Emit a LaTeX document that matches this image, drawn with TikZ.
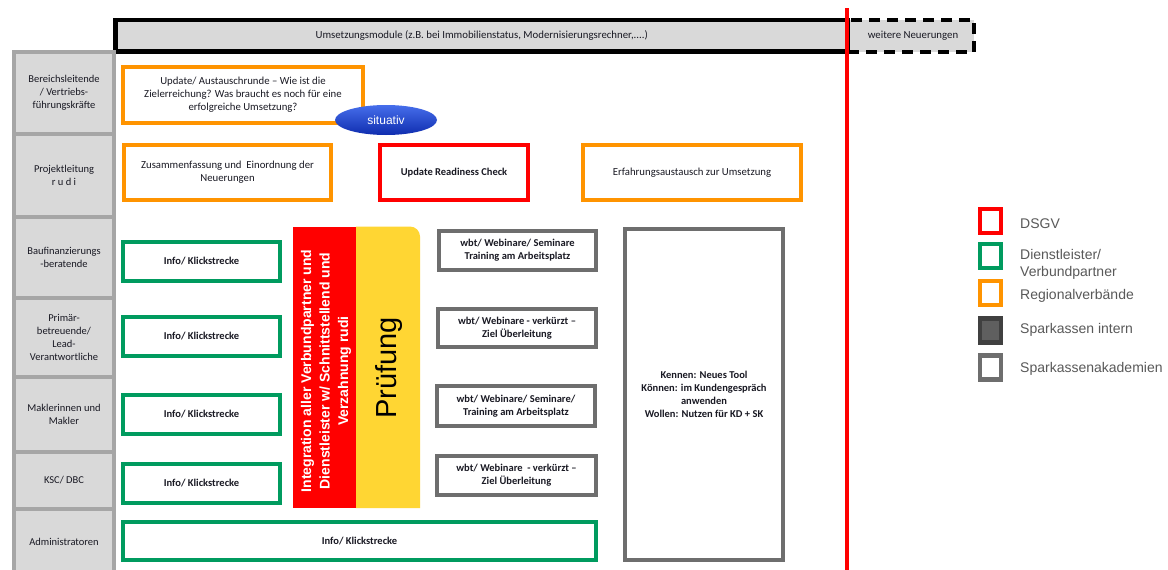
\documentclass[tikz,border=0pt]{standalone}
\usepackage{fontspec}
\setmainfont{Carlito}
\newfontfamily\arialf{Liberation Sans}
\usetikzlibrary{shapes.geometric}
\definecolor{ora}{RGB}{255,148,0}
\definecolor{grn}{RGB}{0,155,95}
\definecolor{gry}{RGB}{110,110,110}
\definecolor{lgry}{RGB}{166,166,166}
\definecolor{lfill}{RGB}{217,217,217}
\definecolor{txt}{RGB}{25,25,35}
\definecolor{yel}{RGB}{255,214,51}
\definecolor{legtxt}{RGB}{89,89,89}
\definecolor{dkfill}{RGB}{95,95,95}
\definecolor{dkline}{RGB}{64,64,64}
\newcommand\bx[7]{%
  \pgfmathsetmacro\myW{#5-#3}%
  \pgfmathsetmacro\myH{#6-#4}%
  \pgfmathsetmacro\myX{(#3+#5)/2}%
  \pgfmathsetmacro\myY{(#4+#6)/2}%
  \node[#2, minimum width=\myW pt, minimum height=\myH pt] (#1) at (\myX,\myY) {#7};}
\tikzset{
  box/.style={draw, line width=4pt, fill=white, inner sep=0pt, align=center,
    font=\fontsize{10.75}{13}\selectfont, text=txt},
  obox/.style={box, draw=ora},
  gbox/.style={box, draw=grn, font=\bfseries\fontsize{10.5}{13}\selectfont},
  rbox/.style={box, draw=red, font=\bfseries\fontsize{10.5}{13}\selectfont},
  kbox/.style={box, draw=gry, font=\bfseries\fontsize{10.5}{13}\selectfont},
  lbox/.style={box, draw=lgry, fill=lfill, font=\fontsize{10.5}{13}\selectfont},
  topbar/.style={box, draw=black, line width=4.5pt, fill=lfill, font=\fontsize{10.8}{12}\selectfont},
  dashbox/.style={box, draw=black, line width=4pt, fill=lfill, dash pattern=on 11pt off 7pt,
    font=\fontsize{10.8}{12}\selectfont},
  legsq/.style={draw, line width=4.5pt, fill=white, minimum width=21pt, minimum height=24pt, inner sep=0pt},
  legtext/.style={anchor=west, inner sep=0pt, align=left, text=legtxt,
    font=\arialf\fontsize{14}{17}\selectfont},
}
\begin{document}
\begin{tikzpicture}[x=1pt,y=-1pt]
\useasboundingbox[fill=white] (0,0) rectangle (1168,570);

% top row
\bx{more}{dashbox}{848}{20}{974}{51.5}{\hspace*{4pt}weitere Neuerungen}
\bx{modules}{topbar}{115.5}{20}{848}{51.5}{Umsetzungsmodule (z.B. bei Immobilienstatus, Modernisierungsrechner,....)}

% left column
\bx{r1}{lbox}{14}{52}{114}{134}{Bereichsleitende\\/ Vertriebs-\\führungskräfte}
\bx{r2}{lbox}{14}{134}{114}{217}{Projektleitung\\r u d i}
\bx{r3}{lbox}{14}{217}{114}{298}{Baufinanzierungs\\-beratende}
\bx{r4}{lbox}{14}{298}{114}{377}{Primär-\\betreuende/\\Lead-\\Verantwortliche}
\bx{r5}{lbox}{14}{377}{114}{452}{Maklerinnen und\\Makler}
\bx{r6}{lbox}{14}{452}{114}{509}{KSC/ DBC}
\bx{r7}{lbox}{14}{509}{114}{578}{\raisebox{4pt}{Administratoren}}

% row 1
\bx{upd}{obox}{123}{67}{363}{123}{Update/ Austauschrunde -- Wie ist die\\Zielerreichung? Was braucht es noch für eine\\erfolgreiche Umsetzung?}
\node[ellipse, minimum width=102pt, minimum height=30pt, inner sep=0pt,
  top color={rgb,255:red,70;green,110;blue,235}, bottom color={rgb,255:red,15;green,45;blue,175},
  text=white, font=\arialf\fontsize{12}{14}\selectfont] (sit) at (386,120) {situativ};

% row 2
\bx{zus}{obox}{124}{145}{331}{200}{Zusammenfassung und~ Einordnung der\\Neuerungen}
\bx{urc}{rbox}{380}{145}{528}{200}{Update Readiness Check}
\bx{erf}{obox}{583}{145}{801}{200}{Erfahrungsaustausch zur Umsetzung}

% green boxes
\bx{i1}{gbox}{123}{242}{280}{281}{Info/ Klickstrecke}
\bx{i2}{gbox}{123}{317}{280}{356}{Info/ Klickstrecke}
\bx{i3}{gbox}{123}{395}{280}{434}{Info/ Klickstrecke}
\bx{i4}{gbox}{123}{464}{280}{503}{Info/ Klickstrecke}
\bx{i5}{gbox}{123}{522}{596}{560}{Info/ Klickstrecke}

% bars
\fill[yel] (356,508) -- (356,226.5) -- (410,226.5) to[out=0,in=90] (420,236.5) -- (420,508) -- cycle;
\fill[red] (293,226.5) rectangle (356,508);
\node[rotate=90, align=center, text=white, font=\arialf\bfseries\fontsize{14}{18.5}\selectfont] (integ) at (326,371)
  {Integration aller Verbundpartner und\\Dienstleister w/ Schnittstellend und\\Verzahnung rudi};
\node[rotate=90, text=black, font=\arialf\fontsize{29}{32}\selectfont] (pruef) at (389,368) {Prüfung};

% gray boxes
\bx{w1}{kbox}{439}{231}{596}{270}{wbt/ Webinare/ Seminare\\Training am Arbeitsplatz}
\bx{w2}{kbox}{438}{309}{596}{347}{wbt/ Webinare - verkürzt --\\Ziel Überleitung}
\bx{w3}{kbox}{437}{386}{595}{426}{wbt/ Webinare/ Seminare/\\Training am Arbeitsplatz}
\bx{w4}{kbox}{437}{456}{596}{495}{wbt/ Webinare~ - verkürzt --\\Ziel Überleitung}
\bx{kenn}{kbox}{625}{229}{783}{560}{Kennen: Neues Tool\\Können: im Kundengespräch\\anwenden\\Wollen: Nutzen für KD + SK}

% red vertical line
\coordinate (vtop) at (847,8);
\coordinate (vbot) at (847,575);
\draw[red, line width=4pt] (vtop) -- (vbot);

% legend
\node[legsq, draw=red] (lg1) at (990.5,221) {};
\node[legsq, draw=grn] (lg2) at (990.5,256) {};
\node[legsq, draw=ora] (lg3) at (990.5,293) {};
\node[legsq, draw=dkline, fill=dkfill] (lg4) at (990.5,330.5) {};
\node[legsq, draw=gry] (lg5) at (990.5,367.5) {};
\node[legtext] (lt1) at (1020,224) {DSGV};
\node[legtext] (lt2) at (1020,264) {Dienstleister/\\Verbundpartner};
\node[legtext] (lt3) at (1020,296) {Regionalverbände};
\node[legtext] (lt4) at (1020,330) {Sparkassen intern};
\node[legtext] (lt5) at (1020,369) {Sparkassenakademien};
\end{tikzpicture}
\end{document}
